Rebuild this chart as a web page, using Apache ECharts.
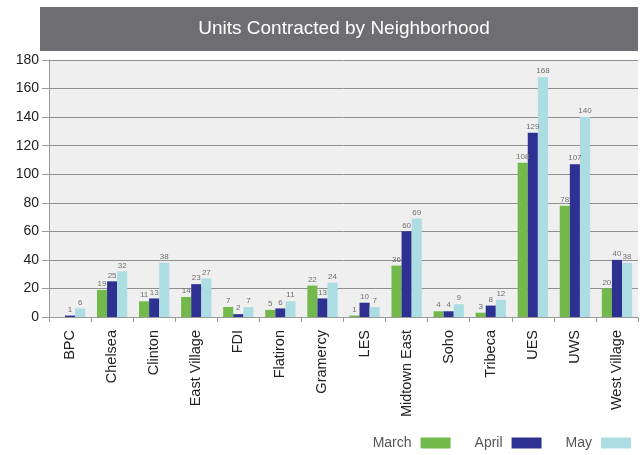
<!DOCTYPE html>
<html>
<head>
<meta charset="utf-8">
<script src="https://cdn.jsdelivr.net/npm/echarts@6/dist/echarts.min.js"></script>
<style>
  html, body { margin: 0; padding: 0; background: #ffffff; }
  #chart { width: 644px; height: 455px; }
</style>
</head>
<body>
<div id="chart"></div>
<script>
// Neighborhoods and monthly contract counts
const neighborhoods = ['BPC', 'Chelsea', 'Clinton', 'East Village', 'FDI', 'Flatiron', 'Gramercy', 'LES', 'Midtown East', 'Soho', 'Tribeca', 'UES', 'UWS', 'West Village'];
const march = [0, 19, 11, 14, 7, 5, 22, 1, 36, 4, 3, 108, 78, 20];
const april = [1, 25, 13, 23, 2, 6, 13, 10, 60, 4, 8, 129, 107, 40];
const may = [6, 32, 38, 27, 7, 11, 24, 7, 69, 9, 12, 168, 140, 38];
const yTicks = { min: 0, max: 180, interval: 20 };

const font = '"Liberation Sans", Arial, sans-serif';

function barSeries(name, values, color) {
  return {
    name: name,
    type: 'bar',
    data: values,
    barGap: '0%',
    barCategoryGap: '28%',
    itemStyle: { color: color },
    label: {
      show: true,
      position: 'top',
      distance: 2,
      fontFamily: font,
      fontSize: 8,
      color: '#707070',
      formatter: p => (p.value > 0 ? p.value : '')
    }
  };
}

const chart = echarts.init(document.getElementById('chart'), null, { renderer: 'canvas' });
chart.setOption({
  animation: false,
  backgroundColor: '#ffffff',
  graphic: [
    // title banner
    {
      type: 'rect',
      z: -1,
      shape: { x: 40, y: 7, width: 598, height: 44 },
      style: { fill: '#6e6d72' }
    },
    {
      type: 'text',
      x: 344,
      y: 29,
      style: {
        text: 'Units Contracted by Neighborhood',
        fill: '#ffffff',
        font: 'normal 19px "Liberation Sans", Arial, sans-serif',
        textAlign: 'center',
        textVerticalAlign: 'middle'
      }
    }
  ],
  grid: {
    left: 49, right: 6, top: 60, bottom: 138,
    show: true,
    backgroundColor: '#efefef',
    borderWidth: 0
  },
  legend: {
    right: 8,
    bottom: 0,
    itemWidth: 30,
    itemHeight: 11,
    itemGap: 24,
    icon: 'rect',
    align: 'right',
    textStyle: { fontFamily: font, fontSize: 14, color: '#555555', padding: [0, 4, 0, 0] },
    data: ['March', 'April', 'May']
  },
  xAxis: {
    type: 'category',
    data: neighborhoods,
    axisLine: { lineStyle: { color: '#9a9a9a', width: 1 } },
    axisTick: { show: true, length: 5, lineStyle: { color: '#9a9a9a' } },
    axisLabel: {
      rotate: 90,
      margin: 13,
      fontFamily: font,
      fontSize: 14.5,
      color: '#222222',
      interval: 0
    }
  },
  yAxis: {
    type: 'value',
    min: yTicks.min,
    max: yTicks.max,
    interval: yTicks.interval,
    axisLine: { show: true, lineStyle: { color: '#9a9a9a' } },
    axisTick: { show: true, length: 7, lineStyle: { color: '#9a9a9a' } },
    splitLine: { lineStyle: { color: '#8f8f8f', width: 1 } },
    axisLabel: { fontFamily: font, fontSize: 14, color: '#222222', margin: 10 }
  },
  series: [
    barSeries('March', march, '#72b84a'),
    barSeries('April', april, '#2e3192'),
    barSeries('May', may, '#abdde3')
  ]
});
</script>
</body>
</html>
